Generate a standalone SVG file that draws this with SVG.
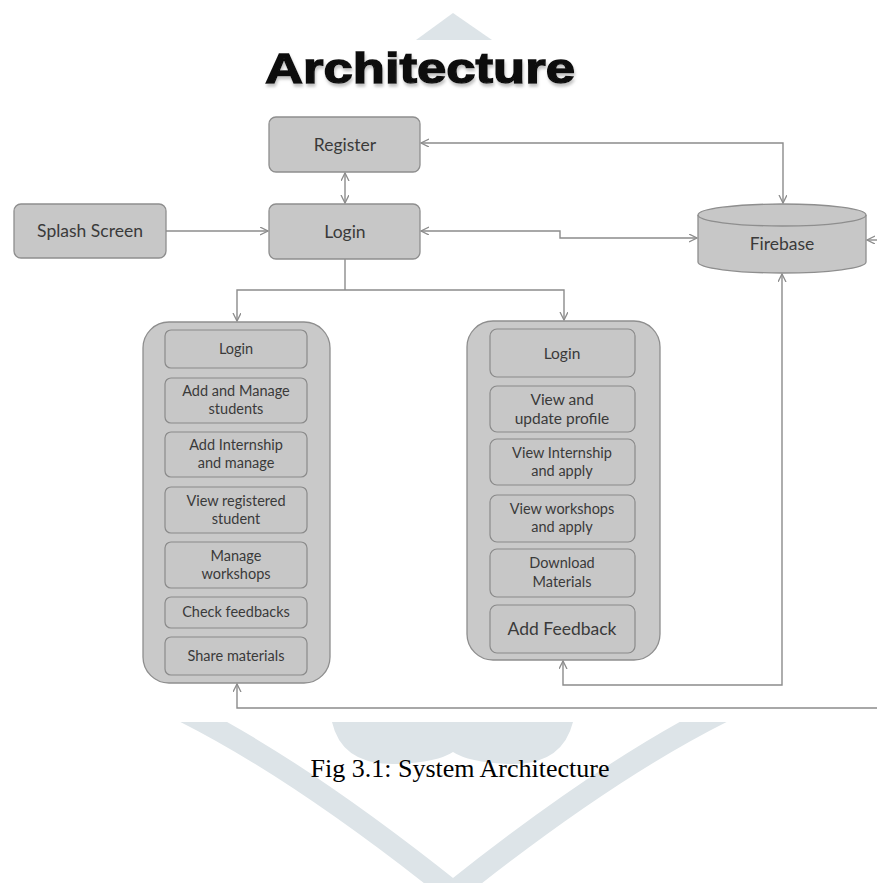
<svg xmlns="http://www.w3.org/2000/svg" width="877" height="883" viewBox="0 0 877 883">
<style>
.box{fill:#c7c7c7;stroke:#8e8e8e;stroke-width:1.3}
.panel{fill:#c9c9c9;stroke:#8e8e8e;stroke-width:1.3}
.inner{fill:#c7c7c7;stroke:#8a8a8a;stroke-width:1.2}
.t{font-family:Lato,"Liberation Sans",sans-serif;fill:#3a3a3a;text-anchor:middle}
.tl{font-size:17.5px}
.ts{font-size:14.5px}
.tr{font-size:15.5px}
.wm{fill:#dde4e8}
.wms{fill:none;stroke:#dde4e8;stroke-width:22}
.c{fill:none;stroke:#8c8c8c;stroke-width:1.4}
</style>
<defs>
<marker id="ah" markerUnits="userSpaceOnUse" markerWidth="10" markerHeight="10" refX="8" refY="4" orient="auto-start-reverse">
<path d="M0,0 L8,4 L0,8" fill="none" stroke="#8c8c8c" stroke-width="1.3"/>
</marker>
<clipPath id="bot"><rect x="0" y="722" width="877" height="161"/></clipPath>
<filter id="sh" x="-5%" y="-20%" width="110%" height="150%"><feDropShadow dx="1" dy="3" stdDeviation="1.5" flood-color="#999" flood-opacity="0.6"/></filter>
</defs>
<rect width="877" height="883" fill="#ffffff"/>
<g id="watermark">
<polygon class="wm" points="453,13 416,40 492,40"/>
<g clip-path="url(#bot)">
<path class="wms" d="M185 712 Q300 770 453 892"/>
<path class="wms" d="M722 712 Q606 770 453 892"/>
<path class="wm" d="M332 722 Q342 766 398 764 Q438 762 453 752 Q468 762 508 764 Q562 766 573 722 Z"/>
</g>
</g>
<text id="title" x="420" y="83" font-family="'Liberation Sans',Arial,sans-serif" font-weight="bold" font-size="43" fill="#111" stroke="#111" stroke-width="1.4" text-anchor="middle" textLength="310" lengthAdjust="spacingAndGlyphs" filter="url(#sh)">Architecture</text>
<g id="connectors">
<path class="c" d="M166 231 H268" marker-end="url(#ah)"/>
<path class="c" d="M345 173 V203" marker-start="url(#ah)" marker-end="url(#ah)"/>
<path class="c" d="M421 143 H783 V203" marker-start="url(#ah)" marker-end="url(#ah)"/>
<path class="c" d="M421 231 H560 V238 H697" marker-start="url(#ah)" marker-end="url(#ah)"/>
<path class="c" d="M345 259 V290"/>
<path class="c" d="M345 290 H237 V321" marker-end="url(#ah)"/>
<path class="c" d="M345 290 H564 V320" marker-end="url(#ah)"/>
<path class="c" d="M563 661 V685 H782 V274" marker-start="url(#ah)" marker-end="url(#ah)"/>
<path class="c" d="M237 684 V708 H877" marker-start="url(#ah)"/>
<path class="c" d="M877 240 H867" marker-end="url(#ah)"/>
</g>
<g id="register"><rect class="box" x="269" y="117" width="151" height="55" rx="7"/><text class="t tl" x="345" y="151">Register</text></g>
<g id="login"><rect class="box" x="269" y="204" width="151" height="55" rx="7"/><text class="t tl" x="345" y="238">Login</text></g>
<g id="splash"><rect class="box" x="14" y="204" width="152" height="54" rx="7"/><text class="t tl" x="90" y="237">Splash Screen</text></g>
<g id="firebase">
<path class="box" d="M698 215 A84 11 0 0 1 866 215 V262 A84 11 0 0 1 698 262 Z"/>
<path fill="none" stroke="#8e8e8e" stroke-width="1.3" d="M698 215 A84 11 0 0 0 866 215"/>
<text class="t tl" x="782" y="250">Firebase</text>
</g>
<g id="admin-panel">
<rect class="panel" x="143" y="322" width="187" height="361" rx="26"/>
<rect class="inner" x="165" y="330" width="142" height="38" rx="6"/>
<text class="t ts" x="236" y="354">Login</text>
<rect class="inner" x="165" y="378" width="142" height="45" rx="6"/>
<text class="t ts" x="236" y="396">Add and Manage</text><text class="t ts" x="236" y="414">students</text>
<rect class="inner" x="165" y="432" width="142" height="45" rx="6"/>
<text class="t ts" x="236" y="450">Add Internship</text><text class="t ts" x="236" y="468">and manage</text>
<rect class="inner" x="165" y="487" width="142" height="46" rx="6"/>
<text class="t ts" x="236" y="506">View registered</text><text class="t ts" x="236" y="524">student</text>
<rect class="inner" x="165" y="542" width="142" height="46" rx="6"/>
<text class="t ts" x="236" y="561">Manage</text><text class="t ts" x="236" y="579">workshops</text>
<rect class="inner" x="165" y="597" width="142" height="31" rx="6"/>
<text class="t ts" x="236" y="617">Check feedbacks</text>
<rect class="inner" x="165" y="637" width="142" height="38" rx="6"/>
<text class="t ts" x="236" y="661">Share materials</text>
</g>
<g id="student-panel">
<rect class="panel" x="467" y="321" width="193" height="339" rx="26"/>
<rect class="inner" x="490" y="329" width="145" height="48" rx="7"/>
<text class="t tr" x="562" y="359">Login</text>
<rect class="inner" x="490" y="386" width="145" height="46" rx="7"/>
<text class="t tr" x="562" y="405">View and</text><text class="t tr" x="562" y="424">update profile</text>
<rect class="inner" x="490" y="439" width="145" height="46" rx="7"/>
<text class="t ts" x="562" y="458">View Internship</text><text class="t ts" x="562" y="476">and apply</text>
<rect class="inner" x="490" y="495" width="145" height="47" rx="7"/>
<text class="t ts" x="562" y="514">View workshops</text><text class="t ts" x="562" y="532">and apply</text>
<rect class="inner" x="490" y="549" width="145" height="48" rx="7"/>
<text class="t ts" x="562" y="568">Download</text><text class="t ts" x="562" y="587">Materials</text>
<rect class="inner" x="490" y="605" width="145" height="48" rx="7"/>
<text class="t tl" x="562" y="635">Add Feedback</text>
</g>
<text id="caption" x="460" y="777" font-family="'Liberation Serif','Times New Roman',serif" font-size="26" fill="#000" text-anchor="middle">Fig 3.1: System Architecture</text>
</svg>
